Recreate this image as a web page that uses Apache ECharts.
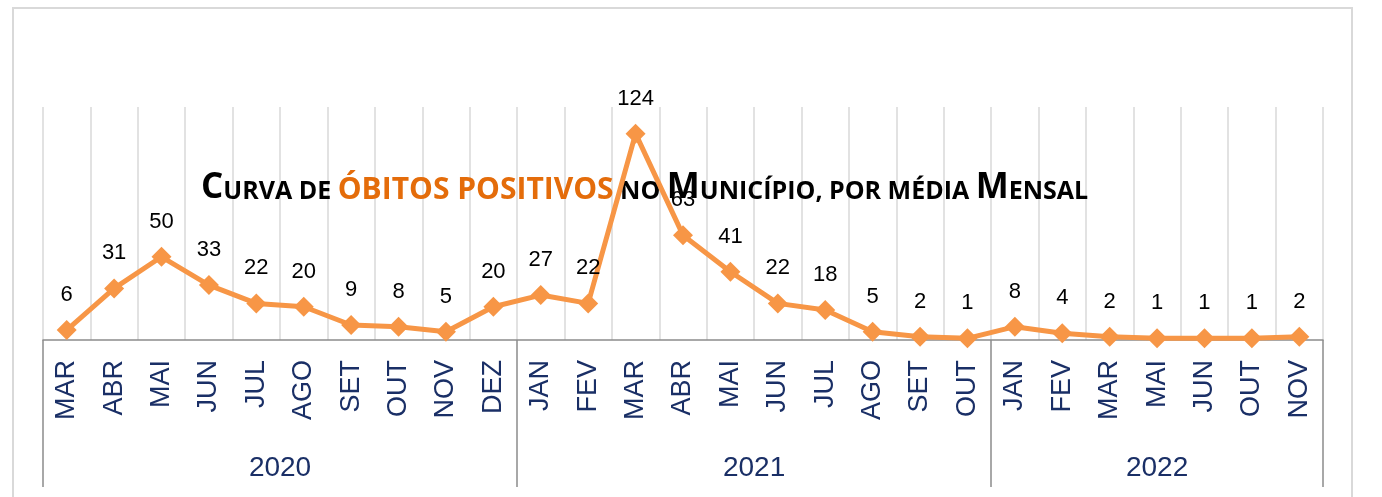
<!DOCTYPE html>
<html>
<head>
<meta charset="utf-8">
<script src="https://cdn.jsdelivr.net/npm/echarts@6/dist/echarts.min.js"></script>
<style>
  html, body { margin: 0; padding: 0; background: #fff; }
  #chart { width: 1382px; height: 497px; }
</style>
</head>
<body>
<div id="chart"></div>
<script>
// dados: óbitos por mês
const years = ['2020', '2021', '2022'];
const months2020 = ['MAR', 'ABR', 'MAI', 'JUN', 'JUL', 'AGO', 'SET', 'OUT', 'NOV', 'DEZ'];
const months2021 = ['JAN', 'FEV', 'MAR', 'ABR', 'MAI', 'JUN', 'JUL', 'AGO', 'SET', 'OUT'];
const months2022 = ['JAN', 'FEV', 'MAR', 'MAI', 'JUN', 'OUT', 'NOV'];
const obitos2020 = [6, 31, 50, 33, 22, 20, 9, 8, 5, 20];
const obitos2021 = [27, 22, 124, 63, 41, 22, 18, 5, 2, 1];
const obitos2022 = [8, 4, 2, 1, 1, 1, 2];

const monthGroups = [months2020, months2021, months2022];
const categories = [];
monthGroups.forEach(function(group, i) {
	group.forEach(function(m) {
		categories.push(years[i] + '|' + m);
	});
});
const values = obitos2020.concat(obitos2021, obitos2022);

// limites e centros de cada ano no eixo
const yearBounds = [0];
const yearCenters = [];
monthGroups.forEach(function(group) {
	const start = yearBounds[yearBounds.length - 1];
	yearBounds.push(start + group.length);
	yearCenters.push(start + group.length / 2);
});

const myChart = echarts.init(document.getElementById('chart'));
myChart.setOption({
	animation: false,
	title: {
		left: 196,
		top: 166,
		z: 0,
		text: '{big|C}{sm|URVA DE }{or|ÓBITOS POSITIVOS}{sm| NO }{big|M}{sm|UNICÍPIO, POR MÉDIA }{big|M}{sm|ENSAL}',
		textStyle: {
			rich: {
				big: { fontFamily: 'Open Sans', fontWeight: 'bold', fontSize: 35, color: '#000', verticalAlign: 'bottom' },
				sm: { fontFamily: 'Open Sans', fontWeight: 'bold', fontSize: 25, color: '#000', verticalAlign: 'bottom', padding: [0, 0, 2, 0] },
				or: { fontFamily: 'Open Sans', fontWeight: 'bold', fontSize: 30, color: '#E46C0A', verticalAlign: 'bottom', padding: [0, 0, 1, 0] }
			}
		}
	},
	graphic: [
		{
			type: 'rect',
			shape: { x: 13, y: 8, width: 1339, height: 520 },
			style: { fill: 'none', stroke: '#d9d9d9', lineWidth: 2 },
			silent: true
		}
	],
	grid: {
		left: 43,
		right: 59,
		top: 107,
		bottom: 157
	},
	xAxis: [
		{
			type: 'category',
			data: categories,
			boundaryGap: true,
			axisLine: { lineStyle: { color: '#8c8c8c', width: 1.5 } },
			axisTick: { show: false },
			splitLine: { show: true, lineStyle: { color: '#d9d9d9', width: 1.5 } },
			axisLabel: {
				interval: 0,
				rotate: 90,
				margin: 20,
				color: '#1A2F66',
				fontFamily: 'Liberation Sans',
				fontSize: 27,
				formatter: function(v) {
					return v.split('|')[1];
				}
			}
		},
		{
			type: 'value',
			position: 'bottom',
			min: 0,
			max: categories.length,
			axisLine: { show: false },
			splitLine: { show: false },
			axisTick: {
				show: true,
				customValues: yearBounds,
				length: 147,
				lineStyle: { color: '#8c8c8c', width: 1.5 }
			},
			axisLabel: {
				customValues: yearCenters,
				margin: 114,
				color: '#1A2F66',
				fontFamily: 'Liberation Sans',
				fontSize: 28,
				formatter: function(v) {
					const i = yearCenters.indexOf(v);
					return i >= 0 ? years[i] : '';
				}
			}
		}
	],
	yAxis: {
		type: 'value',
		min: 0,
		max: 140,
		show: false,
		splitLine: { show: false }
	},
	series: [
		{
			name: 'Óbitos',
			type: 'line',
			data: values,
			symbol: 'diamond',
			symbolSize: 20,
			z: 3,
			lineStyle: { color: '#F79646', width: 5 },
			itemStyle: { color: '#F79646' },
			label: {
				show: true,
				position: 'top',
				distance: 14,
				color: '#000',
				fontFamily: 'Liberation Sans',
				fontSize: 22
			}
		}
	]
});
</script>
</body>
</html>
